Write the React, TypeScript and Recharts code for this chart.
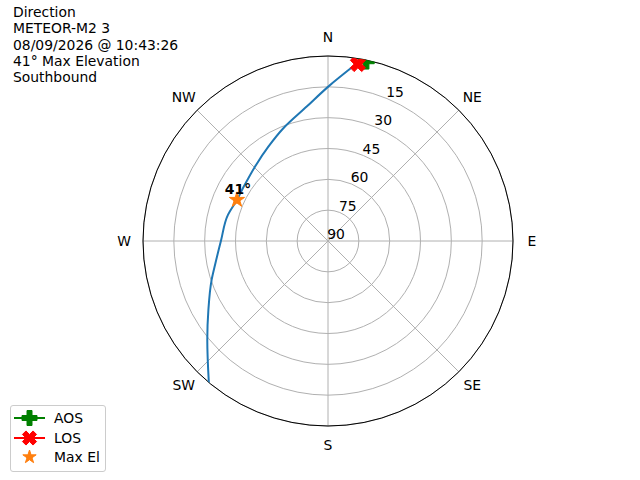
import React from 'react';
import {
  RadarChart,
  Radar,
  PolarGrid,
  PolarAngleAxis,
  PolarRadiusAxis,
  ComposedChart,
  Line,
  Scatter,
  XAxis,
  YAxis,
} from 'recharts';

// compass labels around the dish
const directions = ['N', 'NE', 'E', 'SE', 'S', 'SW', 'W', 'NW'];

// pass track (azimuth deg, elevation deg)
const trackAz = [8.7, 0.1, 351.0, 338.4, 327.7, 315.5, 303.2, 294.3, 284.6, 270, 258, 251.5, 240, 230.6, 220.1];
const trackEl = [3.4, 14.9, 23.8, 31.0, 35.7, 39.3, 41.2, 41.4, 39.7, 37.9, 33.8, 30.3, 22.8, 14.0, 0];

// markers
const aosAz = 12;
const aosEl = 0.5;
const losAz = 9.6;
const losEl = 2.7;
const maxElAz = 294.3;
const maxElEl = 41.4;
const maxElLabel = '41°';

const titleLines = [
  'Direction',
  'METEOR-M2 3',
  '08/09/2026 @ 10:43:26',
  '41° Max Elevation',
  'Southbound',
];

const FONT = '"DejaVu Sans", Verdana, sans-serif';
const BLUE = '#1f77b4';
const GREEN = '#008000';
const RED = '#ff0000';
const ORANGE = '#ff7f0e';

// azimuth/elevation -> x/y in "degrees from zenith"
const toXY = (az: number, el: number) => {
  const r = 90 - el;
  const a = (az * Math.PI) / 180;
  return { x: r * Math.sin(a), y: r * Math.cos(a) };
};

const trackData = trackAz.map((az, i) => toXY(az, trackEl[i]));
const aosData = [toXY(aosAz, aosEl)];
const losData = [toXY(losAz, losEl)];
const maxElData = [toXY(maxElAz, maxElEl)];

const polyStr = (pts: number[][]) => pts.map((p) => `${p[0]},${p[1]}`).join(' ');

const plusPoints = (cx: number, cy: number, s: number, rot = 0) => {
  const a = s / 2;
  const b = s / 6;
  const base = [
    [-b, -a], [b, -a], [b, -b], [a, -b], [a, b], [b, b],
    [b, a], [-b, a], [-b, b], [-a, b], [-a, -b], [-b, -b],
  ];
  const c = Math.cos(rot);
  const sn = Math.sin(rot);
  return base.map(([px, py]) => [cx + px * c - py * sn, cy + px * sn + py * c]);
};

const starPoints = (cx: number, cy: number, s: number) => {
  const R = s / 2;
  const r = R * 0.381966;
  const pts: number[][] = [];
  for (let i = 0; i < 10; i++) {
    const rad = i % 2 === 0 ? R : r;
    const ang = -Math.PI / 2 + (i * Math.PI) / 5;
    pts.push([cx + rad * Math.cos(ang), cy + rad * Math.sin(ang)]);
  }
  return pts;
};

const PlusMarker = (props: any) => (
  <polygon points={polyStr(plusPoints(props.cx, props.cy, 16))} fill={GREEN} stroke={GREEN} strokeWidth={1} />
);

const XMarker = (props: any) => (
  <polygon points={polyStr(plusPoints(props.cx, props.cy, 16, Math.PI / 4))} fill={RED} stroke={RED} strokeWidth={1} />
);

const StarMarker = (props: any) => (
  <g>
    <polygon points={polyStr(starPoints(props.cx, props.cy, 16))} fill={ORANGE} stroke={ORANGE} strokeWidth={1} />
    <text
      x={props.cx + 1}
      y={props.cy - 6}
      textAnchor="middle"
      fontFamily={FONT}
      fontSize={13.9}
      fontWeight="bold"
      fill="#000"
    >
      {maxElLabel}
    </text>
  </g>
);

const AngleTick = (props: any) => (
  <text
    x={props.x}
    y={props.y}
    textAnchor="middle"
    dominantBaseline="central"
    fontFamily={FONT}
    fontSize={13.9}
    fill="#000"
  >
    {props.payload.value}
  </text>
);

const RadiusTick = (props: any) => {
  const v = Number(props.payload.value);
  if (v >= 90) return <g />;
  return (
    <text
      x={props.x + 8}
      y={props.y - 7}
      textAnchor="middle"
      dominantBaseline="central"
      fontFamily={FONT}
      fontSize={13.9}
      fill="#000"
    >
      {90 - v}
    </text>
  );
};

const legendItems = [
  { label: 'AOS', color: GREEN, line: true, kind: 'plus' },
  { label: 'LOS', color: RED, line: true, kind: 'x' },
  { label: 'Max El', color: ORANGE, line: false, kind: 'star' },
];
const legendRows = [11.7, 31.7, 51.3];

function LegendBox() {
  return (
    <div
      style={{
        position: 'absolute',
        left: 10,
        top: 405,
        width: 96,
        height: 67,
        boxSizing: 'border-box',
        border: '1px solid #cccccc',
        borderRadius: 3,
        background: 'rgba(255,255,255,0.8)',
        fontFamily: FONT,
        fontSize: 13.9,
      }}
    >
      {legendItems.map((item, i) => {
        const rowY = legendRows[i];
        let shape;
        if (item.kind === 'plus') {
          shape = <polygon points={polyStr(plusPoints(15.5, 10, 15))} fill={item.color} stroke={item.color} strokeWidth={1} />;
        } else if (item.kind === 'x') {
          shape = <polygon points={polyStr(plusPoints(15.5, 10, 15, Math.PI / 4))} fill={item.color} stroke={item.color} strokeWidth={1} />;
        } else {
          shape = <polygon points={polyStr(starPoints(15.5, 10, 14))} fill={item.color} stroke={item.color} strokeWidth={1} />;
        }
        return (
          <React.Fragment key={item.label}>
            <svg
              width={34}
              height={20}
              style={{ position: 'absolute', left: 3, top: rowY - 10 }}
            >
              {item.line && <line x1={0} y1={10} x2={31} y2={10} stroke={item.color} strokeWidth={2} />}
              {shape}
            </svg>
            <div style={{ position: 'absolute', left: 43, top: rowY - 8, lineHeight: '16px', whiteSpace: 'nowrap' }}>
              {item.label}
            </div>
          </React.Fragment>
        );
      })}
    </div>
  );
}

export default function App() {
  const radarData = directions.map((d) => ({ dir: d, v: 0 }));

  return (
    <div style={{ position: 'absolute', left: 0, top: 0, width: 640, height: 480, background: '#fff', overflow: 'hidden' }}>
      <div style={{ position: 'absolute', left: 0, top: 0 }}>
        <RadarChart
          width={640}
          height={480}
          data={radarData}
          cx={328}
          cy={241}
          outerRadius={185}
          margin={{ top: 0, right: 0, bottom: 0, left: 0 }}
        >
          <PolarGrid gridType="circle" stroke="#b0b0b0" strokeWidth={1} />
          <PolarAngleAxis
            dataKey="dir"
            axisLineType="circle"
            axisLine={{ stroke: '#000', strokeWidth: 1 }}
            tickLine={false}
            tickSize={19}
            tick={<AngleTick />}
          />
          <PolarRadiusAxis
            type="number"
            domain={[0, 90]}
            ticks={[0, 15, 30, 45, 60, 75, 90] as any}
            tickCount={7}
            angle={67.5}
            axisLine={false}
            tick={<RadiusTick />}
          />
          <Radar dataKey="v" stroke="none" fill="none" dot={false} isAnimationActive={false} />
        </RadarChart>
      </div>

      <div
        style={{
          position: 'absolute',
          left: 0,
          top: 0,
          width: 640,
          height: 480,
          clipPath: 'circle(185px at 328px 241px)',
        }}
      >
        <ComposedChart
          width={640}
          height={480}
          data={trackData}
          margin={{ top: 56, right: 127, bottom: 54, left: 143 }}
        >
          <XAxis dataKey="x" type="number" domain={[-90, 90]} allowDataOverflow hide />
          <YAxis dataKey="y" type="number" domain={[-90, 90]} allowDataOverflow hide />
          <Line
            dataKey="y"
            type="monotoneY"
            stroke={BLUE}
            strokeWidth={2}
            dot={false}
            activeDot={false}
            isAnimationActive={false}
          />
          <Scatter data={aosData} dataKey="y" shape={<PlusMarker />} isAnimationActive={false} />
          <Scatter data={losData} dataKey="y" shape={<XMarker />} isAnimationActive={false} />
          <Scatter data={maxElData} dataKey="y" shape={<StarMarker />} isAnimationActive={false} />
        </ComposedChart>
      </div>

      <div
        style={{
          position: 'absolute',
          left: 13,
          top: 4,
          fontFamily: FONT,
          fontSize: 13.9,
          lineHeight: '16.3px',
          color: '#000',
          whiteSpace: 'nowrap',
        }}
      >
        {titleLines.map((t) => (
          <div key={t}>{t}</div>
        ))}
      </div>

      <LegendBox />
    </div>
  );
}
